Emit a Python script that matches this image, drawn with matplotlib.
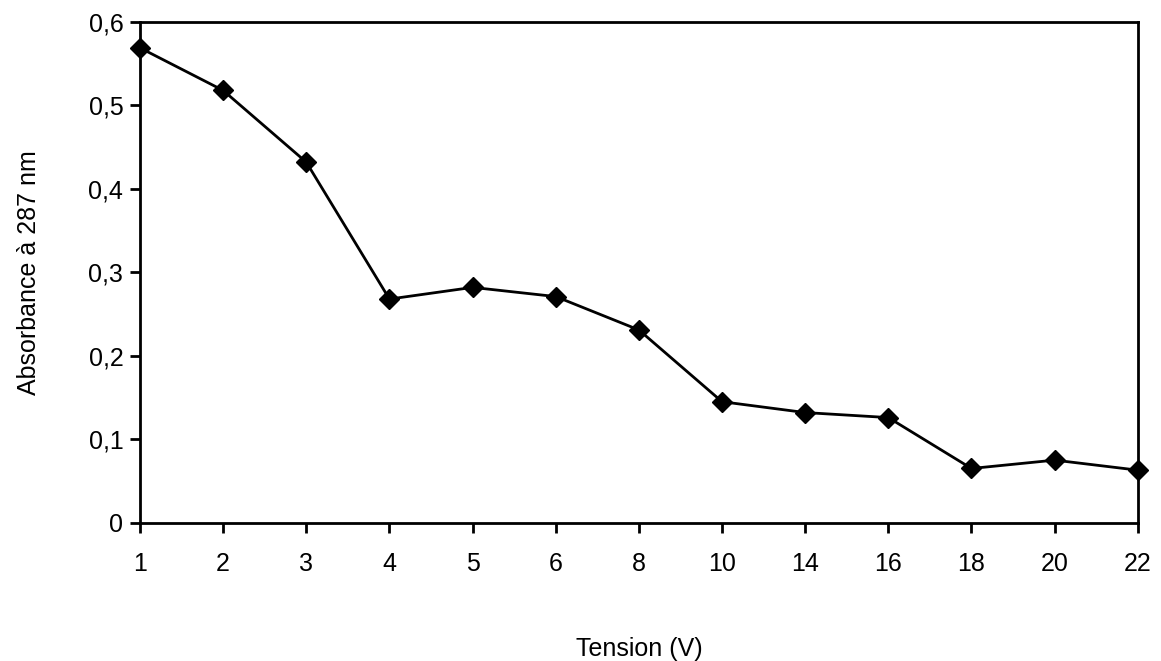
import numpy as np
import matplotlib.pyplot as plt

plt.rcParams['font.family'] = ['Liberation Sans', 'DejaVu Sans']

tension = ['1', '2', '3', '4', '5', '6', '8', '10', '14', '16', '18', '20', '22']
absorbance = [0.569, 0.518, 0.432, 0.268, 0.282, 0.271, 0.231, 0.145, 0.132,
              0.126, 0.065, 0.075, 0.063]

fig = plt.figure(figsize=(11.61, 6.61), dpi=100)
ax = fig.add_axes([0.1206, 0.2092, 0.8594, 0.7575])

x = np.arange(len(tension))
ax.plot(x, absorbance, color='black', lw=2, marker='D', markersize=10,
        clip_on=False, zorder=5)

ax.set_xlim(0, len(tension) - 1)
ax.set_ylim(0, 0.6)
ax.set_xticks(x)
ax.set_xticklabels(tension)
yt = np.arange(0, 0.61, 0.1)
ax.set_yticks(yt)
ax.set_yticklabels(['0'] + ['0,%d' % i for i in range(1, 7)])

for s in ax.spines.values():
    s.set_linewidth(2)
ax.tick_params(direction='out', length=7, width=2, labelsize=18)
ax.tick_params(axis='x', pad=14)
ax.tick_params(axis='y', pad=5)

ax.set_xlabel('Tension (V)', fontsize=18, labelpad=44)
ax.set_ylabel('Absorbance à 287 nm', fontsize=18, labelpad=34)

fig.savefig('out.png', dpi=100)
